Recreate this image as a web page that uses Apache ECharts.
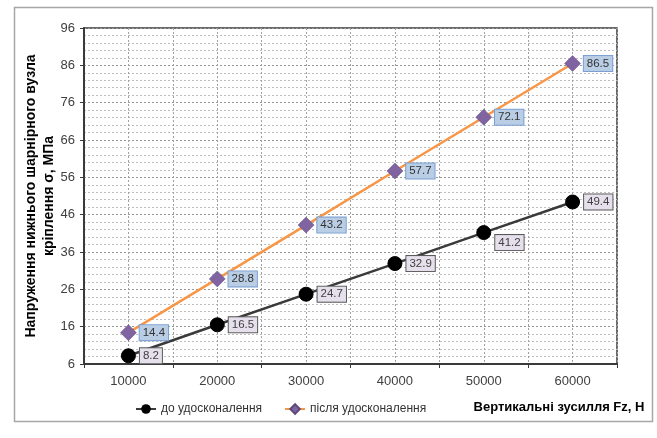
<!DOCTYPE html>
<html>
<head>
<meta charset="utf-8">
<script src="https://cdn.jsdelivr.net/npm/echarts@6/dist/echarts.min.js"></script>
<style>
  html, body { margin: 0; padding: 0; background: #fff; }
  #chart { width: 657px; height: 438px; }
</style>
</head>
<body>
<div id="chart"></div>
<script>
// Vertical force applied, N
var forces = [10000, 20000, 30000, 40000, 50000, 60000];
// Stress in the lower hinge mount, MPa — before the improvement
var stressBefore = [8.2, 16.5, 24.7, 32.9, 41.2, 49.4];
// Stress in the lower hinge mount, MPa — after the improvement
var stressAfter = [14.4, 28.8, 43.2, 57.7, 72.1, 86.5];
// Series names shown in the legend
var seriesNames = ['до удосконалення', 'після удосконалення'];

var FONT = '"Liberation Sans", Arial, sans-serif';

function pairs(values) {
  return forces.map(function (f, i) { return [f, values[i]]; });
}

var beforeData = pairs(stressBefore).map(function (p, i) {
  // the 50000 N label sits a little lower so it clears the line
  return i === 4 ? { value: p, label: { offset: [0, 10] } } : { value: p };
});

var chart = echarts.init(document.getElementById('chart'));

chart.setOption({
  animation: false,
  backgroundColor: '#ffffff',
  textStyle: { fontFamily: FONT },
  grid: {
    left: 84, top: 28, right: 40, bottom: 74,
    show: true, borderColor: '#3a3a3a', borderWidth: 1.5,
    backgroundColor: 'transparent'
  },
  legend: {
    left: 130, top: 398,
    itemWidth: 20, itemHeight: 12, itemGap: 22,
    textStyle: { fontFamily: FONT, fontSize: 12, color: '#333' },
    data: seriesNames
  },
  xAxis: [{
    type: 'value', min: 5000, max: 65000, interval: 5000,
    axisLine: { show: true, lineStyle: { color: '#3a3a3a', width: 2 } },
    axisTick: { show: false },
    axisLabel: {
      margin: 11, fontSize: 13, color: '#404040', fontFamily: FONT,
      formatter: function (v) {
        return (v % 10000 === 0 && v >= 10000 && v <= 60000) ? String(v) : '';
      }
    },
    splitLine: { show: true, lineStyle: { color: '#a0a0a0', type: [2, 2], width: 1 } }
  }, {
    // tick marks between the force values
    type: 'value', position: 'bottom', min: 5000, max: 65000, interval: 10000,
    axisLine: { show: false },
    axisTick: { show: true, inside: false, length: 4, lineStyle: { color: '#3a3a3a' } },
    axisLabel: { show: false },
    splitLine: { show: false }
  }],
  yAxis: {
    type: 'value', min: 6, max: 96, interval: 10,
    axisLine: { show: true, lineStyle: { color: '#3a3a3a', width: 2 } },
    axisTick: { show: true, length: 4, lineStyle: { color: '#3a3a3a' } },
    axisLabel: { margin: 9, fontSize: 13, color: '#404040', fontFamily: FONT },
    splitLine: { show: true, lineStyle: { color: '#999999', type: [2, 2], width: 1 } },
    minorTick: { show: false, splitNumber: 5 },
    minorSplitLine: { show: true, lineStyle: { color: '#bdbdbd', type: [2, 2], width: 1 } }
  },
  series: [{
    name: seriesNames[0],
    type: 'line',
    data: beforeData,
    symbol: 'circle',
    symbolSize: 14,
    itemStyle: { color: '#000000', borderColor: '#000000' },
    lineStyle: { color: '#3a3a3a', width: 2.5 },
    z: 3,
    label: {
      show: true, position: 'right', distance: 4,
      formatter: function (p) { return p.value[1].toFixed(1); },
      fontSize: 11.5, color: '#404040', fontFamily: FONT,
      backgroundColor: '#e6e0ec', borderColor: '#595959', borderWidth: 1,
      padding: [2, 3, 1, 3]
    }
  }, {
    name: seriesNames[1],
    type: 'line',
    data: pairs(stressAfter),
    symbol: 'diamond',
    symbolSize: 16,
    itemStyle: { color: '#8064a2', borderColor: '#5f497a', borderWidth: 0.5 },
    lineStyle: { color: '#f79646', width: 2.5 },
    z: 4,
    label: {
      show: true, position: 'right', distance: 3,
      formatter: function (p) { return p.value[1].toFixed(1); },
      fontSize: 11.5, color: '#333333', fontFamily: FONT,
      backgroundColor: '#b9cde5', borderColor: '#7b9fd3', borderWidth: 1,
      padding: [2, 3, 1, 3]
    }
  }],
  graphic: [{
    type: 'rect', left: 12, top: 5, z: -1,
    shape: { width: 638, height: 414 },
    style: { fill: 'none', stroke: '#a6a6a6', lineWidth: 1.5 }
  }, {
    type: 'text', x: 31, y: 196, rotation: Math.PI / 2,
    style: {
      text: 'Напруження нижнього шарнірного вузла',
      font: 'bold 14px ' + FONT, fill: '#000',
      textAlign: 'center', textVerticalAlign: 'middle'
    }
  }, {
    type: 'text', x: 49, y: 196, rotation: Math.PI / 2,
    style: {
      text: 'кріплення σ, МПа',
      font: 'bold 14px ' + FONT, fill: '#000',
      textAlign: 'center', textVerticalAlign: 'middle'
    }
  }, {
    type: 'text', x: 559, y: 407,
    style: {
      text: 'Вертикальні зусилля Fz, Н',
      font: 'bold 13px ' + FONT, fill: '#000',
      textAlign: 'center', textVerticalAlign: 'middle'
    }
  }]
});
</script>
</body>
</html>
